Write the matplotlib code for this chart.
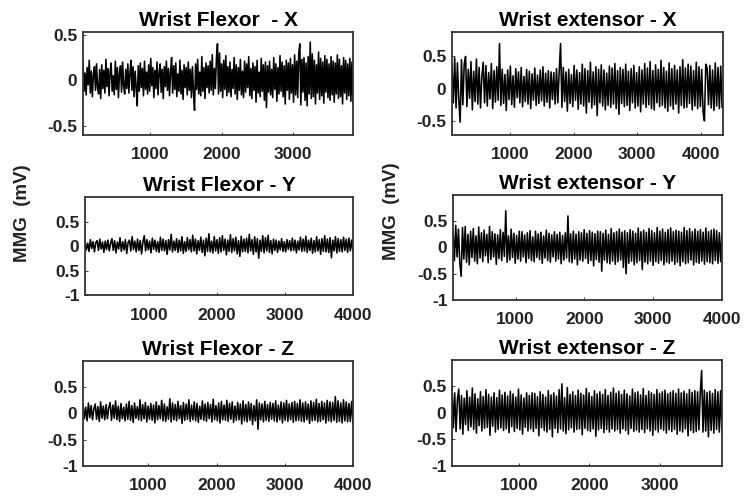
import matplotlib
matplotlib.use("Agg")
from matplotlib import pyplot as plt
import numpy as np

plt.rcParams['font.family'] = ['Liberation Sans', 'DejaVu Sans']

# MMG signals (mV), one value per drawn peak / trough
flexor_x = [0.20, -0.12, 0.08, -0.16, 0.14, -0.05, 0.22, -0.14, 0.10, -0.18, 0.06, 0.15, -0.11, 0.18, -0.08, -0.15, 0.12, -0.20, 0.17, -0.09,
            0.11, -0.14, 0.23, -0.07, 0.13, -0.17, 0.09, 0.19, -0.12, 0.05, -0.16, 0.21, -0.10, 0.14, -0.19, 0.08, 0.16, -0.13, 0.20, -0.06,
            -0.15, 0.12, -0.09, 0.18, -0.14, 0.07, 0.22, -0.11, 0.15, -0.18, 0.10, -0.07, -0.28, 0.16, -0.12, 0.19, -0.08, 0.13, -0.17, 0.21,
            -0.10, 0.09, -0.15, 0.17, -0.12, 0.24, -0.06, 0.14, -0.19, 0.11, -0.09, 0.20, -0.16, 0.08, 0.18, -0.13, 0.12, -0.20, 0.15, -0.07,
            0.21, -0.11, 0.13, -0.17, 0.09, 0.25, -0.14, 0.16, -0.10, 0.19, -0.18, 0.07, -0.12, 0.22, -0.15, 0.11, -0.21, 0.17, -0.08, 0.14,
            -0.16, 0.20, -0.11, 0.12, -0.19, 0.15, -0.13, -0.33, 0.18, -0.10, 0.23, -0.15, 0.09, -0.17, 0.26, -0.12, 0.14, -0.20, 0.19, -0.08,
            0.16, -0.14, 0.21, -0.11, 0.28, -0.16, 0.13, -0.09, 0.24, 0.40, -0.15, 0.30, -0.12, 0.18, -0.19, 0.22, -0.10, 0.27, -0.17, 0.15,
            -0.13, 0.20, -0.18, 0.12, -0.09, 0.25, -0.15, 0.17, -0.21, 0.14, -0.11, 0.23, -0.16, 0.10, -0.19, 0.21, -0.13, 0.18, -0.08, 0.26,
            -0.17, 0.13, -0.20, 0.19, -0.11, 0.15, -0.24, 0.22, -0.14, 0.09, -0.18, 0.24, -0.12, 0.17, -0.22, 0.20, -0.30, 0.16, -0.13, 0.21,
            -0.16, 0.12, -0.19, 0.25, -0.10, 0.18, -0.23, 0.14, -0.15, 0.27, -0.12, 0.20, -0.18, 0.16, -0.26, 0.22, -0.11, 0.19, -0.21, 0.24,
            -0.14, 0.17, -0.24, 0.28, -0.16, 0.21, -0.19, 0.30, 0.40, -0.27, 0.23, -0.13, 0.25, -0.22, 0.19, -0.28, 0.26, -0.15, 0.42, -0.20,
            0.29, -0.18, 0.22, -0.26, 0.17, -0.14, 0.31, -0.21, 0.24, -0.17, 0.20, -0.25, 0.27, -0.13, 0.23, -0.19, 0.18, -0.22, 0.26, -0.16,
            0.21, -0.24, 0.19, -0.15, 0.28, -0.20, 0.23, -0.18, 0.16, -0.26, 0.25, -0.14, 0.22, -0.21, 0.18, -0.17, 0.24, -0.23, 0.20, -0.25]

extensor_x = [0.35, -0.22, 0.48, -0.30, 0.40, -0.18, -0.52, 0.45, -0.25, 0.38, 0.50, -0.28, 0.30, -0.15, 0.42, -0.33, 0.27, -0.20, 0.46, -0.24,
              0.33, -0.30, 0.18, 0.41, -0.22, 0.36, -0.27, 0.25, -0.16, 0.39, -0.31, 0.28, -0.21, 0.34, -0.18, 0.70, -0.26, 0.30, -0.23, 0.22,
              -0.34, 0.29, -0.17, 0.35, -0.25, 0.20, -0.29, 0.31, -0.14, 0.26, -0.22, 0.33, -0.28, 0.19, -0.20, 0.30, -0.24, 0.27, -0.31, 0.23,
              -0.18, 0.32, -0.26, 0.21, -0.23, 0.29, -0.19, 0.34, -0.27, 0.24, -0.21, 0.28, -0.30, 0.26, -0.17, 0.25, -0.24, 0.31, -0.22, 0.27,
              0.70, -0.29, 0.33, -0.20, 0.26, -0.35, 0.30, -0.23, 0.22, -0.28, 0.36, -0.18, 0.29, -0.32, 0.25, -0.24, 0.38, -0.27, 0.31, -0.38,
              0.28, -0.21, 0.41, -0.30, 0.26, -0.25, 0.34, -0.42, 0.30, -0.22, 0.37, -0.27, 0.29, -0.33, 0.24, -0.26, 0.35, -0.29, 0.32, -0.24,
              0.39, -0.31, 0.28, -0.40, 0.33, -0.23, 0.30, -0.28, 0.38, -0.26, 0.27, -0.34, 0.31, -0.22, 0.36, -0.30, 0.25, -0.27, 0.34, -0.36,
              0.29, -0.24, 0.39, -0.29, 0.32, -0.25, 0.42, -0.31, 0.28, -0.33, 0.37, -0.22, 0.30, -0.28, 0.44, -0.26, 0.33, -0.30, 0.27, -0.35,
              0.40, -0.27, 0.31, -0.32, 0.36, -0.24, 0.29, -0.38, 0.34, -0.26, 0.45, -0.30, 0.32, -0.29, 0.38, -0.23, 0.35, -0.33, 0.28, -0.27,
              0.41, -0.31, 0.34, -0.28, 0.30, -0.36, -0.50, 0.38, 0.32, -0.25, 0.36, -0.30, 0.29, -0.34, 0.40, -0.27, 0.33, -0.31, 0.35, -0.29]

flexor_y = [0.10, -0.08, 0.06, -0.11, 0.13, -0.05, 0.09, -0.12, 0.07, 0.11, -0.09, 0.14, -0.06, 0.08, -0.13, 0.10, -0.07, 0.12, -0.10, 0.05,
            0.15, -0.09, 0.11, -0.14, 0.08, -0.06, 0.17, -0.11, 0.09, -0.08, 0.13, -0.15, 0.07, 0.12, -0.10, 0.19, -0.07, 0.10, -0.12, 0.14,
            -0.09, 0.11, -0.16, 0.08, 0.21, -0.10, 0.13, -0.08, 0.10, -0.14, 0.16, -0.07, 0.12, -0.11, 0.09, -0.13, 0.18, -0.09, 0.14, -0.10,
            0.11, -0.17, 0.13, -0.08, 0.24, -0.12, 0.10, -0.09, 0.15, -0.13, 0.12, -0.10, 0.19, -0.15, 0.09, -0.11, 0.17, -0.08, 0.13, -0.12,
            0.22, -0.10, 0.14, -0.16, 0.11, -0.09, 0.18, -0.13, 0.12, -0.20, 0.16, -0.11, 0.25, -0.12, 0.10, -0.14, 0.19, -0.10, 0.13, -0.15,
            0.17, -0.12, 0.21, -0.09, 0.14, -0.18, 0.12, -0.11, 0.23, -0.13, 0.15, -0.10, 0.18, -0.16, 0.11, -0.21, 0.20, -0.12, 0.14, -0.11,
            0.16, -0.14, 0.24, -0.10, 0.13, -0.17, 0.19, -0.12, 0.15, -0.25, 0.12, -0.11, 0.21, -0.14, 0.17, -0.10, 0.22, -0.13, 0.11, -0.16,
            0.14, -0.09, 0.12, -0.13, 0.10, -0.08, 0.15, -0.11, 0.09, -0.12, 0.13, -0.07, 0.11, -0.10, 0.16, -0.09, 0.12, -0.14, 0.10, -0.08,
            0.18, -0.11, 0.14, -0.10, 0.20, -0.13, 0.12, -0.09, 0.16, -0.15, 0.11, -0.12, 0.19, -0.10, 0.13, -0.17, 0.15, -0.11, 0.21, -0.12,
            0.14, -0.13, 0.17, -0.24, 0.12, -0.10, 0.19, -0.14, 0.15, -0.11, 0.13, -0.12, 0.18, -0.09, 0.14, -0.13, 0.16, -0.10, 0.12, -0.11]

extensor_y = [0.30, -0.25, 0.42, -0.18, 0.35, -0.30, -0.55, 0.38, -0.22, 0.40, -0.28, 0.25, -0.33, 0.31, -0.19, 0.36, -0.26, 0.22, -0.31, 0.39,
              -0.20, 0.28, -0.27, 0.33, -0.16, 0.25, -0.29, 0.40, -0.23, 0.30, -0.18, 0.26, -0.32, 0.24, -0.21, 0.34, -0.25, 0.29, -0.17, 0.70,
              -0.28, 0.22, -0.24, 0.35, -0.19, 0.27, -0.30, 0.23, -0.22, 0.31, -0.26, 0.30, -0.18, 0.24, -0.29, 0.28, -0.21, 0.32, -0.25, 0.20,
              -0.27, 0.31, -0.19, 0.26, -0.23, 0.29, -0.30, 0.22, -0.20, 0.33, -0.25, 0.27, -0.28, 0.24, -0.18, 0.30, -0.26, 0.25, -0.22, 0.29,
              -0.31, 0.23, -0.24, 0.28, -0.20, 0.60, -0.27, 0.26, -0.29, 0.31, -0.22, 0.25, -0.33, 0.30, -0.24, 0.28, -0.26, 0.34, -0.21, 0.27,
              -0.30, 0.32, -0.25, 0.29, -0.35, 0.26, -0.23, 0.31, -0.28, 0.30, -0.45, 0.27, -0.24, 0.33, -0.29, 0.25, -0.31, 0.36, -0.26, 0.28,
              -0.32, 0.30, -0.27, 0.35, -0.24, 0.29, -0.38, 0.32, -0.50, 0.28, -0.30, 0.34, -0.26, 0.31, -0.33, 0.27, -0.29, 0.37, -0.25, 0.30,
              -0.42, 0.33, -0.28, 0.29, -0.31, 0.36, -0.26, 0.32, -0.34, 0.28, -0.27, 0.38, -0.30, 0.31, -0.25, 0.35, -0.33, 0.29, -0.28, 0.34,
              -0.30, 0.37, -0.26, 0.30, -0.32, 0.33, -0.28, 0.31, -0.35, 0.29, -0.27, 0.38, -0.31, 0.32, -0.29, 0.36, -0.24, 0.30, -0.33, 0.35,
              -0.28, 0.31, -0.30, 0.34, -0.26, 0.29, -0.32, 0.37, -0.27, 0.30, -0.29, 0.33, -0.31, 0.35, -0.25, 0.32, -0.30, 0.28, -0.27, 0.31]

flexor_z = [0.16, -0.10, 0.12, -0.14, 0.20, -0.08, 0.15, -0.12, 0.09, 0.18, -0.11, 0.13, -0.15, 0.22, -0.09, 0.14, -0.12, 0.17, -0.10, 0.11,
            0.21, -0.13, 0.16, -0.09, 0.24, -0.12, 0.14, -0.15, 0.19, -0.10, 0.12, -0.14, 0.18, -0.11, 0.23, -0.13, 0.15, -0.17, 0.20, -0.09,
            0.13, -0.12, 0.26, -0.14, 0.17, -0.10, 0.21, -0.16, 0.14, -0.11, 0.19, -0.13, 0.16, -0.18, 0.22, -0.12, 0.15, -0.10, 0.25, -0.14,
            0.18, -0.15, 0.13, -0.11, 0.28, -0.16, 0.20, -0.12, 0.17, -0.14, 0.23, -0.10, 0.15, -0.19, 0.21, -0.13, 0.18, -0.11, 0.26, -0.15,
            0.16, -0.12, 0.22, -0.14, 0.19, -0.17, 0.14, -0.11, 0.24, -0.13, 0.18, -0.15, 0.21, -0.10, 0.17, -0.16, 0.27, -0.12, 0.15, -0.14,
            0.20, -0.18, 0.23, -0.12, 0.16, -0.13, 0.25, -0.15, 0.19, -0.11, 0.22, -0.17, 0.14, -0.13, 0.21, -0.12, 0.18, -0.20, 0.24, -0.14,
            0.17, -0.16, 0.22, -0.13, 0.19, -0.21, 0.15, -0.14, 0.26, -0.30, 0.20, -0.12, 0.18, -0.16, 0.23, -0.13, 0.17, -0.15, 0.21, -0.11,
            0.19, -0.14, 0.24, -0.16, 0.16, -0.12, 0.22, -0.18, 0.20, -0.13, 0.25, -0.15, 0.18, -0.12, 0.21, -0.17, 0.23, -0.14, 0.19, -0.13,
            0.26, -0.15, 0.20, -0.16, 0.22, -0.12, 0.18, -0.19, 0.24, -0.14, 0.21, -0.13, 0.27, -0.16, 0.19, -0.15, 0.23, -0.12, 0.20, -0.18,
            0.25, -0.14, 0.22, -0.16, 0.21, -0.13, 0.32, -0.17, 0.24, -0.15, 0.20, -0.18, 0.26, -0.14, 0.22, -0.16, 0.19, -0.15, 0.23, -0.17]

extensor_z = [0.50, -0.28, 0.38, -0.35, 0.25, 0.45, -0.30, 0.33, -0.40, 0.28, -0.22, 0.42, -0.33, 0.30, -0.26, 0.47, -0.31, 0.36, -0.38, 0.27,
              -0.24, 0.40, -0.34, 0.31, -0.29, 0.44, -0.27, 0.35, -0.42, 0.30, -0.25, 0.38, -0.36, 0.29, -0.31, 0.43, -0.28, 0.34, -0.33, 0.39,
              -0.30, 0.32, -0.37, 0.41, -0.26, 0.36, -0.35, 0.30, -0.29, 0.45, -0.32, 0.34, -0.40, 0.28, -0.27, 0.38, -0.34, 0.33, -0.30, 0.38,
              -0.35, 0.37, -0.29, 0.31, -0.43, 0.40, -0.28, 0.35, -0.33, 0.30, -0.36, 0.42, -0.31, 0.34, -0.45, 0.38, -0.29, 0.32, -0.37, 0.44,
              -0.30, 0.55, -0.34, 0.29, -0.39, 0.48, -0.32, 0.35, -0.28, 0.40, -0.36, 0.33, -0.31, 0.43, -0.30, 0.37, -0.41, 0.34, -0.29, 0.46,
              -0.33, 0.38, -0.35, 0.31, -0.30, 0.42, -0.44, 0.36, -0.32, 0.40, -0.29, 0.35, -0.37, 0.44, -0.31, 0.33, -0.36, 0.39, -0.30, 0.47,
              -0.34, 0.37, -0.31, 0.41, -0.38, 0.35, -0.30, 0.43, -0.33, 0.36, -0.40, 0.32, -0.29, 0.45, -0.35, 0.38, -0.32, 0.40, -0.36, 0.34,
              -0.31, 0.46, -0.37, 0.33, -0.30, 0.41, -0.34, 0.38, -0.42, 0.35, -0.32, 0.44, -0.36, 0.37, -0.30, 0.40, -0.33, 0.43, -0.38, 0.36,
              -0.32, 0.39, -0.35, 0.42, -0.31, 0.37, -0.40, 0.45, -0.34, 0.38, -0.36, 0.41, -0.30, 0.36, -0.43, 0.44, -0.33, 0.39, -0.37, 0.42,
              -0.35, 0.40, -0.32, 0.38, 0.80, -0.36, 0.43, -0.34, 0.39, -0.45, 0.41, -0.33, 0.37, -0.38, 0.44, -0.31, 0.40, -0.36, 0.42, -0.39]

titles = ['Wrist Flexor  - X', 'Wrist extensor - X',
          'Wrist Flexor - Y', 'Wrist extensor - Y',
          'Wrist Flexor - Z', 'Wrist extensor - Z']
signals = [flexor_x, extensor_x, flexor_y, extensor_y, flexor_z, extensor_z]
# first and last sample index of each recording
sample_ranges = [(60, 3840), (90, 4330), (60, 4000), (90, 4000), (40, 4000), (50, 3880)]
x_limits = [(60, 3840), (90, 4345), (60, 4000), (90, 4000), (40, 4000), (50, 3880)]
y_limits = [(-0.6, 0.53), (-0.72, 0.88), (-1, 1), (-1, 1), (-1, 1), (-1, 1)]
x_ticks = [[1000, 2000, 3000], [1000, 2000, 3000, 4000],
           [1000, 2000, 3000, 4000], [1000, 2000, 3000, 4000],
           [1000, 2000, 3000, 4000], [1000, 2000, 3000]]
y_ticks = [[-0.5, 0, 0.5], [-0.5, 0, 0.5],
           [-1, -0.5, 0, 0.5], [-1, -0.5, 0, 0.5],
           [-1, -0.5, 0, 0.5], [-1, -0.5, 0, 0.5]]
y_ticklabels = [['-0.5', '0', '0.5'], ['-0.5', '0', '0.5'],
                ['-1', '0.5', '0', '0.5'], ['-1', '-0.5', '0', '0.5'],
                ['-1', '-0.5', '0', '0.5'], ['-1', '-0.5', '0', '0.5']]

boxes = [[0.1114, 0.7284, 0.3624, 0.2072], [0.6067, 0.7284, 0.3638, 0.2072],
         [0.1141, 0.4064, 0.3597, 0.1972], [0.6081, 0.3964, 0.3611, 0.2113],
         [0.1114, 0.0624, 0.3624, 0.2113], [0.6067, 0.0624, 0.3624, 0.2133]]

fig = plt.figure(figsize=(7.45, 4.97), dpi=100)

for i in range(6):
    ax = fig.add_axes(boxes[i])
    y = np.array(signals[i])
    x = np.linspace(sample_ranges[i][0], sample_ranges[i][1], len(y))
    ax.plot(x, y, color='black', linewidth=1.15, solid_joinstyle='round')
    ax.set_xlim(x_limits[i])
    ax.set_ylim(y_limits[i])
    ax.set_xticks(x_ticks[i])
    ax.set_xticklabels([str(t) for t in x_ticks[i]], fontweight='bold')
    ax.set_yticks(y_ticks[i])
    ax.set_yticklabels(y_ticklabels[i], fontweight='bold')
    ax.tick_params(axis='both', direction='in', length=2, width=0.6,
                   labelsize=12.5, colors='#222222')
    ax.tick_params(axis='x', pad=9)
    ax.tick_params(axis='y', pad=4)
    for s in ax.spines.values():
        s.set_linewidth(1.3)
        s.set_color('#333333')
    ax.set_title(titles[i], fontsize=15, fontweight='bold', pad=4)

fig.text(0.030, 0.572, 'MMG  (mV)', rotation=90, fontsize=13.5, fontweight='bold',
         ha='center', va='center', color='#222222')
fig.text(0.526, 0.575, 'MMG  (mV)', rotation=90, fontsize=13.5, fontweight='bold',
         ha='center', va='center', color='#222222')

fig.savefig('out.png', dpi=100)
